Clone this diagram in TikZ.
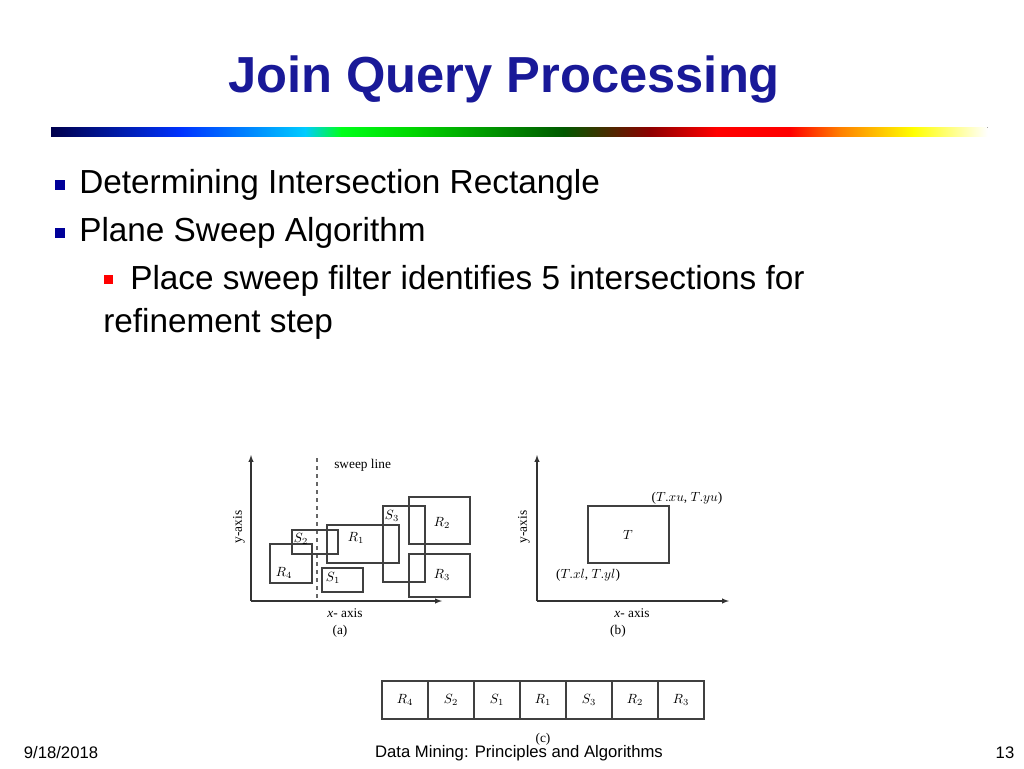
\documentclass[tikz,border=0pt]{standalone}
\usepackage{fontspec}
\setmainfont{Liberation Sans}
\newfontfamily\ser{Liberation Serif}
\begin{document}
\begin{tikzpicture}[x=0.75pt,y=-0.75pt,
  box/.style={draw=black!75,line width=0.8pt},
  lab/.style={font=\ser\fontsize{10}{11}\selectfont,inner sep=0},
  ax/.style={draw=black!80,line width=0.8pt,-latex},
  cell/.style={draw=black!75,line width=0.8pt,minimum width=34.5pt,minimum height=28.5pt,inner sep=0,font=\ser\fontsize{10}{11}\selectfont}]
\useasboundingbox (0,0) rectangle (1024,768);
\node[font=\bfseries\fontsize{38}{44}\selectfont,text=blue!55!black!90] (title) at (504,80) {Join Query Processing};
% gradient bar
\foreach \a/\b/\ca/\cb in {51/181/{blue!30!black}/{blue!80!cyan},181/305/{blue!80!cyan}/cyan!80!blue,305/341/cyan!80!blue/{green!90!cyan},341/409/{green!90!cyan}/green!85!black,409/563/green!85!black/green!35!black,563/649/green!35!black/red!55!black,649/716/red!55!black/red,716/790/red/red,790/840/red/orange,840/913/orange/yellow,913/987/yellow/white}
  \fill[left color=\ca,right color=\cb] (\a,127) rectangle (\b+0.5,136);
% bullets
\fill[blue!60!black] (55,180) rectangle (65,190);
\fill[blue!60!black] (55,228) rectangle (65,238);
\fill[red] (104,275) rectangle (113,284);
\node[anchor=west,inner sep=0,font=\fontsize{25}{29}\selectfont] (b1) at (79,185) {Determining Intersection Rectangle};
\node[anchor=west,inner sep=0,font=\fontsize{25}{29}\selectfont] (b2) at (79,233) {Plane Sweep Algorithm};
\node[anchor=west,inner sep=0,font=\fontsize{25}{29}\selectfont] (b3) at (130,281) {Place sweep filter identifies 5 intersections for};
\node[anchor=west,inner sep=0,font=\fontsize{25}{29}\selectfont] (b4) at (103,324) {refinement step};
% (a)
\coordinate (ao) at (251,601);
\draw[ax] (ao) -- (251,455);
\draw[ax] (ao) -- (442,601);
\draw[dashed,draw=black!60,line width=1pt] (317,458) -- (317,601);
\node[lab,anchor=west] (sw) at (334,465) {sweep line};
\draw[box] (270,544) rectangle (312,583);
\draw[box] (292,530) rectangle (338,554);
\draw[box] (327,525) rectangle (399,563);
\draw[box] (322,568) rectangle (363,592);
\draw[box] (383,506) rectangle (425,582);
\draw[box] (409,497) rectangle (470,544);
\draw[box] (409,554) rectangle (470,597);
\node[lab] (lS2) at (301,539) {$S_2$};
\node[lab] (lR1) at (356,538) {$R_1$};
\node[lab] (lR4) at (284,573) {$R_4$};
\node[lab] (lS1) at (333,578) {$S_1$};
\node[lab] (lS3) at (392,516) {$S_3$};
\node[lab] (lR2) at (442,523) {$R_2$};
\node[lab] (lR3) at (442,575) {$R_3$};
\node[lab] (ax1) at (345,613) {\textit{x}- axis};
\node[lab,rotate=90] (ay1) at (239,527) {y-axis};
\node[lab] (ca) at (340,631) {(a)};
% (b)
\coordinate (bo) at (537,601);
\draw[ax] (bo) -- (537,455);
\draw[ax] (bo) -- (729,601);
\draw[box] (588,506) rectangle (669,563);
\node[lab] (T) at (628,535) {$T$};
\node[lab] (tu) at (687,498) {($T.xu$, $T.yu$)};
\node[lab] (tl) at (588,575) {($T.xl$, $T.yl$)};
\node[lab] (ax2) at (632,613) {\textit{x}- axis};
\node[lab,rotate=90] (ay2) at (524,527) {y-axis};
\node[lab] (cb) at (618,631) {(b)};
% (c)
\foreach \l [count=\i] in {R_4,S_2,S_1,R_1,S_3,R_2,R_3}
  \node[cell] (c\i) at (382+46*\i-23,700) {$\l$};
\node[lab] (cc) at (543,739) {(c)};
% footer
\node[font=\fontsize{12.5}{14}\selectfont] (d) at (61,753) {9/18/2018};
\node[font=\fontsize{12.5}{14}\selectfont] (f) at (519,753) {Data Mining: Principles and Algorithms};
\node[font=\fontsize{12.5}{14}\selectfont] (n) at (1005,753) {13};
\end{tikzpicture}
\end{document}
